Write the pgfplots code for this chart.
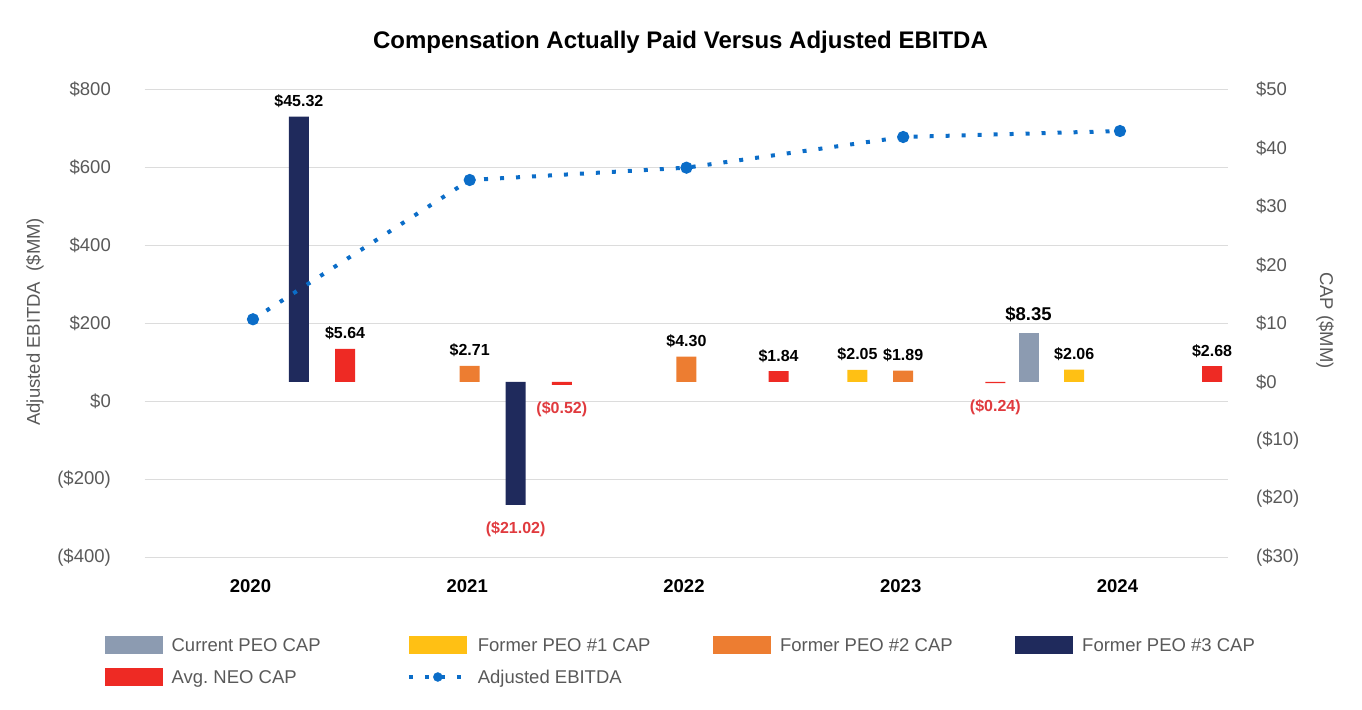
\documentclass[border=0pt]{standalone}
\usepackage{fontspec}
\setmainfont{Liberation Sans}
\usepackage{pgfplots}
\pgfplotsset{compat=1.18}
\frenchspacing
\definecolor{curpeo}{HTML}{8C9BB1}
\definecolor{fpeoone}{HTML}{FFC014}
\definecolor{fpeotwo}{HTML}{ED7D31}
\definecolor{fpeothree}{HTML}{1F2A5C}
\definecolor{neo}{HTML}{EE2A24}
\definecolor{ebit}{HTML}{0B6DC8}
\definecolor{neglabc}{HTML}{E03A3E}
\definecolor{txtgrey}{HTML}{595959}
\definecolor{gridgrey}{HTML}{DCDCDC}
\newcommand{\fs}[1]{\fontsize{#1bp}{#1bp}\selectfont}
\pgfplotsset{
  mybase/.style={width=1083.8bp, height=468bp, scale only axis, at={(0,0)}, anchor=south west,
    xmin=-0.5, xmax=4.5, axis line style={draw=none}, tick style={draw=none}, clip=false},
  mylab/.style={only marks, mark=none, point meta=explicit symbolic, nodes near coords,
    nodes near coords style={anchor=base, yshift=10bp, font=\fs{16}\bfseries, text=black, inner sep=0pt}},
  mynlab/.style={only marks, mark=none, point meta=explicit symbolic, nodes near coords,
    nodes near coords style={anchor=base, yshift=-28.5bp, font=\fs{16}\bfseries, text=neglabc, inner sep=0pt}},
  mybar/.style={ybar, bar width=20bp, bar shift=0pt, draw=none, fill=#1},
  mybarleg/.style={legend image code/.code={\path[draw=none,fill=none] (0bp,-16bp) rectangle (58bp,16bp); \fill[#1,draw=none] (0bp,-9bp) rectangle (58bp,9bp);}},
}
\begin{document}
\begin{tikzpicture}
% Axis 1: left scale, grid, year labels
\begin{axis}[mybase, ymin=-400, ymax=800, ytick={-400,-200,0,200,400,600,800},
  yticklabels={(\$400),(\$200),\$0,\$200,\$400,\$600,\$800},
  ymajorgrids, grid style={gridgrey, line width=1.5bp},
  xtick={0,1,2,3,4}, xticklabels={2020,2021,2022,2023,2024},
  xticklabel style={font=\fs{18.5}\bfseries, text=black, anchor=north, inner sep=0pt, yshift=-21.7bp, xshift=-2.5bp},
  yticklabel style={font=\fs{18.5}, text=txtgrey, anchor=east, inner sep=0pt, xshift=-33.6bp},
]
\addplot[draw=none, mark=none] coordinates {(0,0)};
\end{axis}
% Axis 2: right scale, CAP bars
\begin{axis}[mybase, ymin=-30, ymax=50, ytick={-30,-20,-10,0,10,20,30,40,50},
  yticklabels={(\$30),(\$20),(\$10),\$0,\$10,\$20,\$30,\$40,\$50},
  yticklabel pos=right, xtick=\empty,
  yticklabel style={font=\fs{18.5}, text=txtgrey, anchor=west, inner sep=0pt, xshift=27.6bp},
]
% Current PEO CAP
\addplot[mybar=curpeo] coordinates {(3.578,8.35)};
% Former PEO #1 CAP
\addplot[mybar=fpeoone] coordinates {(2.789,2.05) (3.789,2.06)};
% Former PEO #2 CAP
\addplot[mybar=fpeotwo] coordinates {(1,2.71) (2,4.30) (3,1.89)};
% Former PEO #3 CAP
\addplot[mybar=fpeothree] coordinates {(0.212,45.32) (1.212,-21.02)};
% Avg. NEO CAP
\addplot[mybar=neo] coordinates {(0.425,5.64) (1.425,-0.52) (2.425,1.84) (3.425,-0.24) (4.425,2.68)};
% labels
\addplot[mylab, nodes near coords style={font=\fs{18.5}\bfseries, yshift=2bp}] coordinates {(3.578,8.35) [\$8.35]};
\addplot[mylab] coordinates {(2.789,2.05) [\$2.05] (3.789,2.06) [\$2.06]};
\addplot[mylab] coordinates {(1,2.71) [\$2.71] (2,4.30) [\$4.30] (3,1.89) [\$1.89]};
\addplot[mylab] coordinates {(0.212,45.32) [\$45.32]};
\addplot[mylab] coordinates {(0.425,5.64) [\$5.64] (2.425,1.84) [\$1.84] (4.425,2.68) [\$2.68]};
\addplot[mynlab] coordinates {(1.212,-21.02) [(\$21.02)] (1.425,-0.52) [(\$0.52)] (3.425,-0.24) [(\$0.24)]};
\end{axis}
% Axis 3: Adjusted EBITDA line (left scale) and legend
\begin{axis}[mybase, hide axis, ymin=-400, ymax=800,
  legend columns=4, legend cell align=left,
  legend style={at={(axis description cs:-0.0369,-0.1532)}, anchor=north west, draw=none, fill=none,
    inner sep=0pt, outer sep=0pt, row sep=0pt, font=\fs{18.5}, text=txtgrey,
    nodes={inner sep=0pt, text depth=0pt},
    /tikz/every odd column/.append style={column sep=9bp},
    /tikz/every even column/.append style={column sep=0pt}},
]
\addlegendimage{mybarleg=curpeo}\addlegendentry{\makebox[235.2bp][l]{Current PEO CAP}}
\addlegendimage{mybarleg=fpeoone}\addlegendentry{\makebox[235.2bp][l]{Former PEO \#1 CAP}}
\addlegendimage{mybarleg=fpeotwo}\addlegendentry{\makebox[235.2bp][l]{Former PEO \#2 CAP}}
\addlegendimage{mybarleg=fpeothree}\addlegendentry{\makebox[235.2bp][l]{Former PEO \#3 CAP}}
\addlegendimage{mybarleg=neo}\addlegendentry{\makebox[235.2bp][l]{Avg.\ NEO CAP}}
\addlegendimage{legend image code/.code={\path[draw=none,fill=none] (0bp,-16bp) rectangle (58bp,16bp);
   \draw[ebit, line width=4bp, dash pattern=on 4bp off 12bp] (0bp,0bp) -- (58bp,0bp);
   \fill[ebit] (29bp,0bp) circle (4.5bp);}}\addlegendentry{\makebox[235.2bp][l]{Adjusted EBITDA}}
\addplot[ebit, line width=4bp, dash pattern=on 4bp off 12bp, mark=*, mark size=4bp,
  mark options={solid, fill=ebit, draw=none}, forget plot]
  coordinates {(0,210.3) (1,567.4) (2,599) (3,677.7) (4,693)};
\end{axis}
\node[font=\fs{24}\bfseries, anchor=base] at (535.9bp, 508.8bp) {Compensation Actually Paid Versus Adjusted EBITDA};
\node[rotate=90, font=\fs{18.5}, text=txtgrey] at (-109.6bp, 235.5bp) {Adjusted EBITDA\ \ (\$MM)};
\node[rotate=-90, font=\fs{18.5}, text=txtgrey] at (1180.4bp, 236.8bp) {CAP (\$MM)};
\pgfresetboundingbox
\path[use as bounding box] (-144.6bp,-152.7bp) rectangle (1217.4bp,557.3bp);
\end{tikzpicture}
\end{document}
